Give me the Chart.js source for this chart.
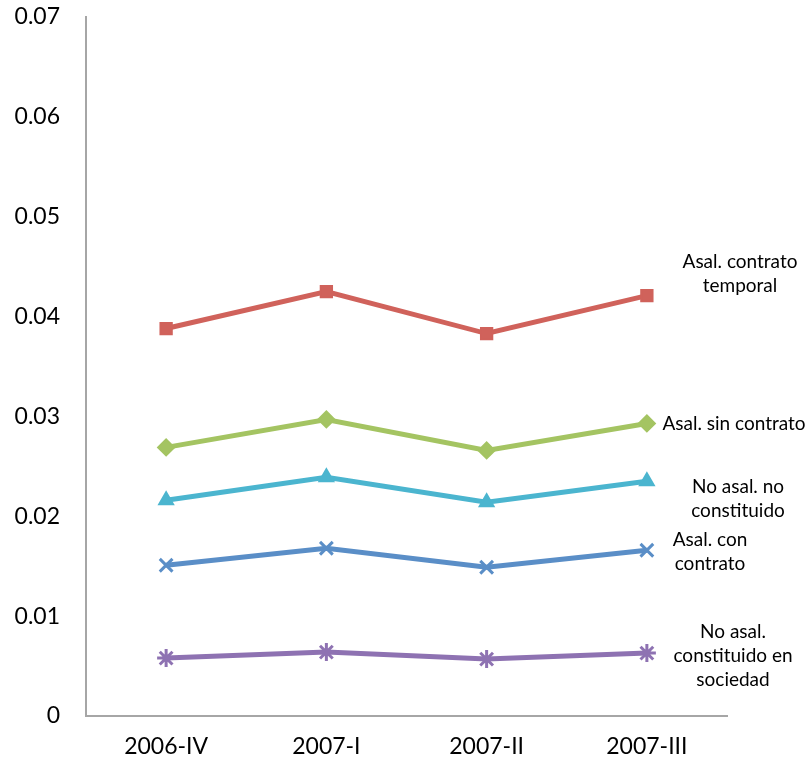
<!DOCTYPE html>
<html>
<head>
<meta charset="utf-8">
<script src="https://cdn.jsdelivr.net/npm/chart.js@4"></script>
<style>
  html, body { margin: 0; padding: 0; background: #fff; }
  #wrap { width: 811px; height: 766px; position: relative; }
</style>
</head>
<body>
<div id="wrap"><canvas id="chart"></canvas></div>
<script>
  // ── 데이터 ─────────────────────────────
  const categories = ['2006-IV', '2007-I', '2007-II', '2007-III'];

  const asalTemporal   = [0.0388, 0.0425, 0.0383, 0.0421];
  const asalSinContr   = [0.0269, 0.0297, 0.0266, 0.0293];
  const noAsalNoConst  = [0.0216, 0.0239, 0.0214, 0.0235];
  const asalConContr   = [0.0151, 0.0168, 0.0149, 0.0166];
  const noAsalSociedad = [0.0058, 0.0064, 0.0057, 0.0063];

  const seriesLabels = [
    ['Asal. contrato', 'temporal'],
    ['Asal. sin contrato'],
    ['No asal. no', 'constituido'],
    ['Asal. con', 'contrato'],
    ['No asal.', 'constituido en', 'sociedad'],
  ];

  const FONT = 'Lato, "Open Sans", sans-serif';

  function ds(data, color, style, radius, bw) {
    return {
      data,
      borderColor: color,
      backgroundColor: color,
      borderWidth: 5,
      pointStyle: style,
      pointRadius: radius,
      pointBorderWidth: bw,
      tension: 0,
    };
  }

  /* ── 오른쪽 라벨 (레이아웃 오프셋) ── */
  const labelPos = [
    { dx: 13, dy: -22 },
    { dx: 7,  dy: 0 },
    { dx: 11, dy: 18 },
    { dx: -17, dy: 2 },
    { dx: 6,  dy: 3 },
  ];

  const endLabels = {
    id: 'endLabels',
    afterDatasetsDraw(chart) {
      const { ctx, chartArea } = chart;
      const y = chart.scales.y;
      ctx.save();
      ctx.font = '19px ' + FONT;
      ctx.fillStyle = '#000';
      ctx.textAlign = 'center';
      ctx.textBaseline = 'middle';
      chart.data.datasets.forEach((d, i) => {
        const lines = seriesLabels[i];
        const cx = chartArea.right + labelPos[i].dx;
        const cy = y.getPixelForValue(d.data[d.data.length - 1]) + labelPos[i].dy;
        const lh = 24;
        const top = cy - (lines.length - 1) * lh / 2;
        lines.forEach((t, k) => ctx.fillText(t, cx, top + k * lh));
      });
      ctx.restore();
    }
  };

  new Chart(document.getElementById('chart'), {
    type: 'line',
    data: {
      labels: categories,
      datasets: [
        ds(asalTemporal,   '#d0625b', 'rect', 8, 2),
        ds(asalSinContr,   '#a4c462', 'rectRot', 8, 2),
        ds(noAsalNoConst,  '#4bb5cf', 'triangle', 8, 2),
        ds(asalConContr,   '#5a8ec7', 'crossRot', 9, 3),
        ds(noAsalSociedad, '#8e72b2', 'star', 9, 3),
      ],
    },
    options: {
      responsive: true,
      maintainAspectRatio: false,
      animation: false,
      layout: { padding: { left: 0, right: 84, top: 17, bottom: 0 } },
      plugins: {
        legend: { display: false },
        tooltip: { enabled: false },
      },
      scales: {
        x: {
          offset: true,
          grid: { display: false, drawTicks: false },
          border: { color: '#a6a6a6', width: 2 },
          ticks: { color: '#000', font: { family: FONT, size: 23 }, padding: 17 },
          afterFit(scale) { scale.height = 50; scale.paddingLeft = 0; scale.paddingRight = 0; },
        },
        y: {
          min: 0,
          max: 0.07,
          grid: { display: false, drawTicks: false },
          border: { color: '#a6a6a6', width: 2 },
          ticks: {
            stepSize: 0.01,
            color: '#000',
            font: { family: FONT, size: 23 },
            padding: 26,
            callback: v => (Math.round(v * 100) / 100).toString(),
          },
          afterFit(scale) { scale.width = 86; scale.paddingTop = 0; scale.paddingBottom = 0; },
        },
      },
    },
    plugins: [endLabels],
  });
</script>
</body>
</html>
